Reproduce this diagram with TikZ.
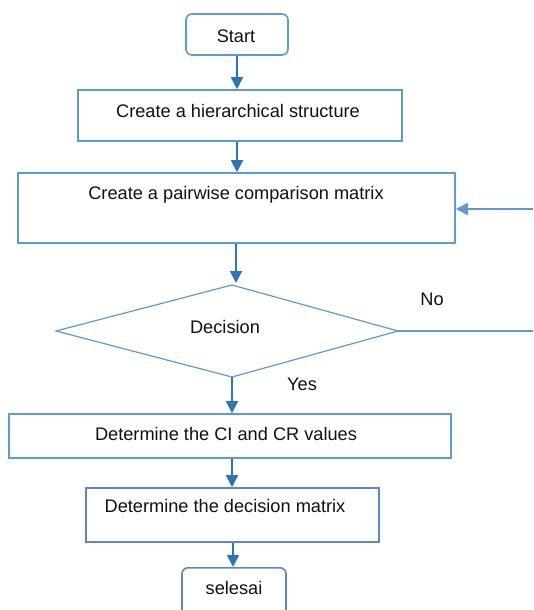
\documentclass[tikz,border=0pt]{standalone}
\usepackage{fontspec}
\setmainfont{Liberation Sans}
\usetikzlibrary{arrows.meta}
\definecolor{boxblue}{HTML}{5B9BD5}
\definecolor{arrblue}{HTML}{2E75B6}
\definecolor{mtxblue}{HTML}{5B86D0}
\definecolor{txt}{HTML}{111111}
\tikzset{
  box/.style={draw=boxblue, line width=1.6pt, fill=white, inner sep=0pt},
  term/.style={box, rounded corners=6pt},
  lbl/.style={text=txt, inner sep=0pt, font=\fontsize{18.2}{21}\selectfont},
  arr/.style={draw=arrblue, line width=1.8pt, -{Triangle[width=12pt,length=12pt]}},
  ln/.style={draw=boxblue, line width=1.6pt},
}
\begin{document}
\begin{tikzpicture}[x=1pt,y=-1pt]
\useasboundingbox (0,0) rectangle (533,610);
\fill[white] (0,0) rectangle (533,610);
% nodes
\node[term, minimum width=102pt, minimum height=41pt] (start) at (237,34.5) {};
\node[lbl] (startT) at (236,36) {Start};
\node[box, minimum width=324pt, minimum height=51pt] (hier) at (240,115.5) {};
\node[lbl] (hierT) at (238,111) {Create a hierarchical structure};
\node[box, minimum width=437pt, minimum height=70pt] (pair) at (236.5,208) {};
\node[lbl] (pairT) at (236,195) {Create a pairwise comparison matrix};
% diamond
\coordinate (dT) at (232,285);
\coordinate (dL) at (56,331);
\coordinate (dR) at (398,331);
\coordinate (dB) at (232,377);
\draw[ln, line width=1.2pt, line join=miter] (dT) -- (dR) -- (dB) -- (dL) -- cycle;
\node[lbl] (dec) at (225,327) {Decision};
\node[box, minimum width=442pt, minimum height=44pt] (ci) at (230,436) {};
\node[lbl] (ciT) at (226,434) {Determine the CI and CR values};
\node[box, draw=mtxblue, minimum width=293pt, minimum height=54pt] (mtx) at (232.5,515) {};
\node[lbl] (mtxT) at (225,506) {Determine the decision matrix};
\node[term, draw=mtxblue, minimum width=104pt, minimum height=60pt, anchor=north] (end) at (234,567) {};
\node[lbl] (endT) at (234,588) {selesai};
\node[lbl] (yes) at (302,384) {Yes};
\node[lbl] (no) at (432,299) {No};
\coordinate (rin) at (533,209);
\coordinate (rout) at (533,331);
% connectors
\draw[arr] (start.south) -- (start.south |- hier.north);
\draw[arr] (hier.south -| start.south) -- (start.south |- pair.north);
\draw[arr] (pair.south -| 236,0) -- (236,283);
\draw[arr] (dB) -- (dB |- ci.north);
\draw[arr] (ci.south -| dB) -- (dB |- mtx.north);
\draw[arr] (mtx.south -| 233,0) -- (233,567);
\draw[ln] (dR) -- (rout);
\draw[arr, draw=boxblue] (rin) -- (pair.east |- rin);
\end{tikzpicture}
\end{document}
